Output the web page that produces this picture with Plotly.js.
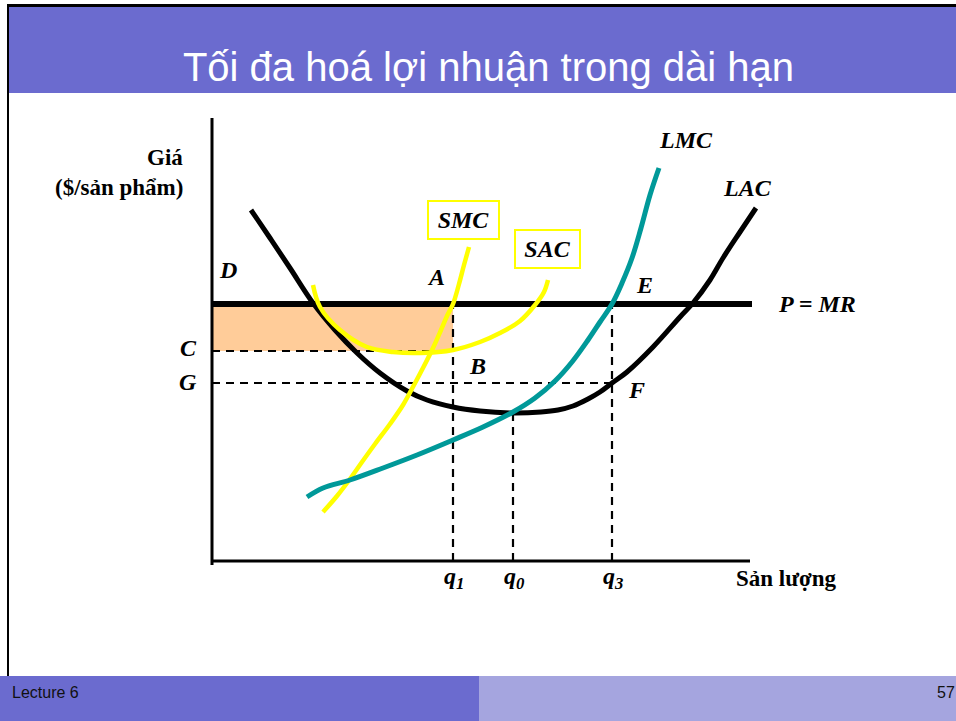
<!DOCTYPE html>
<html><head><meta charset="utf-8">
<script src="https://cdn.plot.ly/plotly-3.0.1.min.js"></script>
<style>html,body{margin:0;padding:0;background:#fff}#chart{width:956px;height:721px}</style>
</head><body><div id="chart"></div>
<script>
// ---- data (schematic units: quantity to the right of origin, price above origin) ----
const quantityLabels = ['<i>q</i><sub><i>1</i></sub>', '<i>q</i><sub><i>0</i></sub>', '<i>q</i><sub><i>3</i></sub>'];
const quantityValues = [241, 301, 400];           // q1, q0, q3
const priceLabels = ['C', 'G'];
const priceValues = [210, 178];                    // C, G
const marketPrice = 257;                            // P = MR
const axisXMax = 538;
const axisYMax = 443;

const lacX = [39, 58, 78, 101, 123, 145, 168, 195, 215, 241, 268, 301, 329, 346, 361, 376, 388, 400, 415, 441, 468, 481, 498, 511, 528, 544];
const lacY = [351, 323, 293, 258, 231, 208, 188, 170, 161, 154, 150, 148, 149, 151, 155, 162, 169, 178, 189, 214, 244, 258, 281, 303, 329, 353];

const lmcX = [95, 111, 138, 171, 205, 241, 271, 301, 323, 343, 360, 376, 388, 400, 410, 420, 429, 438, 447];
const lmcY = [64, 73, 81, 93, 106, 121, 134, 149, 163, 180, 199, 221, 239, 257, 278, 303, 333, 366, 393];

const smcX = [111, 125, 138, 150, 163, 178, 191, 202, 212, 221, 229, 235, 241, 247, 252, 257];
const smcY = [49, 65, 82, 99, 117, 137, 156, 176, 195, 213, 231, 245, 257, 277, 296, 314];

const sacX = [101, 108, 128, 155, 181, 208, 241, 268, 288, 308, 323, 332, 336];
const sacY = [276, 254, 231, 214, 209, 208, 211, 219, 228, 240, 256, 269, 281];

// ---- helpers ----
const W = 956, H = 721;
const px = v => v / W, py = v => 1 - v / H;
const serifB = {family: '"Liberation Serif", "Times New Roman", serif', size: 24, color: '#000'};
const q1 = quantityValues[0], q0 = quantityValues[1], q3 = quantityValues[2];
const C = priceValues[0], G = priceValues[1];
const lacAt = (x) => { for (let i = 0; i < lacX.length - 1; i++) { if (x >= lacX[i] && x <= lacX[i+1]) { const t = (x - lacX[i]) / (lacX[i+1] - lacX[i]); return lacY[i] + t * (lacY[i+1] - lacY[i]); } } return 0; };

const dash = {color: '#000', width: 2.2, dash: '8px,6px'};
const traces = [
  {x: [0, q1, q1, 0, 0], y: [C, C, marketPrice, marketPrice, C], fill: 'toself', fillcolor: '#FFCC99', mode: 'lines', line: {width: 0}},
  {x: [0, q1], y: [C, C], mode: 'lines', line: dash},
  {x: [0, q3], y: [G, G], mode: 'lines', line: dash},
  {x: [q1, q1], y: [0, marketPrice], mode: 'lines', line: dash},
  {x: [q0, q0], y: [0, lacAt(q0)], mode: 'lines', line: dash},
  {x: [q3, q3], y: [0, marketPrice], mode: 'lines', line: dash},
  {x: [0, axisXMax + 2], y: [marketPrice, marketPrice], mode: 'lines', line: {color: '#000', width: 6}},
  {x: lacX, y: lacY, mode: 'lines', line: {color: '#000', width: 5, shape: 'spline', smoothing: 1}},
  {x: sacX, y: sacY, mode: 'lines', line: {color: '#FFFF00', width: 4.5, shape: 'spline', smoothing: 1}},
  {x: smcX, y: smcY, mode: 'lines', line: {color: '#FFFF00', width: 4.5, shape: 'spline', smoothing: 1}},
  {x: lmcX, y: lmcY, mode: 'lines', line: {color: '#009999', width: 5, shape: 'spline', smoothing: 1}},
  {x: [0, 0], y: [-4, axisYMax], mode: 'lines', line: {color: '#000', width: 3}},
  {x: [0, axisXMax], y: [0, 0], mode: 'lines', line: {color: '#000', width: 3}}
];

const bi = t => '<b><i>' + t + '</i></b>';
const ann = (x, y, text, extra) => Object.assign({x, y, xref: 'x', yref: 'y', text, showarrow: false, font: serifB}, extra || {});
const annotations = [
  ann(-27, 404, '<b>Giá</b>', {xanchor: 'right', font: Object.assign({}, serifB, {size: 23})}),
  ann(-27, 374, '<b>($/sản phẩm)</b>', {xanchor: 'right', font: Object.assign({}, serifB, {size: 23})}),
  ann(16, 291, bi('D')),
  ann(224, 284, bi('A')),
  ann(251, 341, bi('SMC'), {bordercolor: '#FFFF00', borderwidth: 2, width: 67, height: 34, borderpad: 1}),
  ann(335, 312, bi('SAC'), {bordercolor: '#FFFF00', borderwidth: 2, width: 61, height: 34, borderpad: 1}),
  ann(474, 421, bi('LMC')),
  ann(535, 373, bi('LAC')),
  ann(432, 276, bi('E')),
  ann(605, 257, bi('P = MR')),
  ann(-24, C + 3, bi(priceLabels[0])),
  ann(-24, G + 1, bi(priceLabels[1])),
  ann(265, 195, bi('B')),
  ann(424, 171, bi('F')),
  ann(574, -17, '<b>Sản lượng</b>', {font: Object.assign({}, serifB, {size: 23})})
];
quantityLabels.forEach((t, i) => annotations.push(ann(quantityValues[i] + 1, -17, '<b>' + t + '</b>')));

annotations.push({x: px(10), y: py(692), xref: 'paper', yref: 'paper', xanchor: 'left', yanchor: 'middle', text: 'Lecture 6', showarrow: false, font: {family: '"Liberation Sans", Arial, sans-serif', size: 16, color: '#111'}});
annotations.push({x: px(957), y: py(692), xref: 'paper', yref: 'paper', xanchor: 'right', yanchor: 'middle', text: '57', showarrow: false, font: {family: '"Liberation Sans", Arial, sans-serif', size: 16, color: '#111'}});

const rect = (x0, y0, x1, y1, color) => ({type: 'rect', xref: 'paper', yref: 'paper', x0: px(x0), x1: px(x1), y0: py(y1), y1: py(y0), fillcolor: color, line: {width: 0}, layer: 'below'});
const shapes = [
  rect(7, 4, 956, 7, '#000'),
  rect(7, 4, 9, 676, '#000'),
  rect(9, 7, 956, 93, '#6B6BCF'),
  rect(0, 676, 479, 721, '#6B6BCF'),
  rect(479, 676, 956, 721, '#A5A5DF')
];

const layout = {
  width: W, height: H, margin: {l: 0, r: 0, t: 0, b: 0, pad: 0},
  paper_bgcolor: '#fff', plot_bgcolor: 'rgba(0,0,0,0)', showlegend: false,
  title: {text: 'Tối đa hoá lợi nhuận trong dài hạn', x: 488.5 / W, xanchor: 'center', y: py(67), yanchor: 'middle', yref: 'paper',
          font: {family: '"Liberation Sans", Arial, sans-serif', size: 40, color: '#fff'}},
  xaxis: {range: [-212, 744], visible: false, fixedrange: true},
  yaxis: {range: [-160, 561], visible: false, fixedrange: true},
  shapes, annotations
};
Plotly.newPlot('chart', traces, layout, {staticPlot: true, displayModeBar: false});
</script></body></html>
